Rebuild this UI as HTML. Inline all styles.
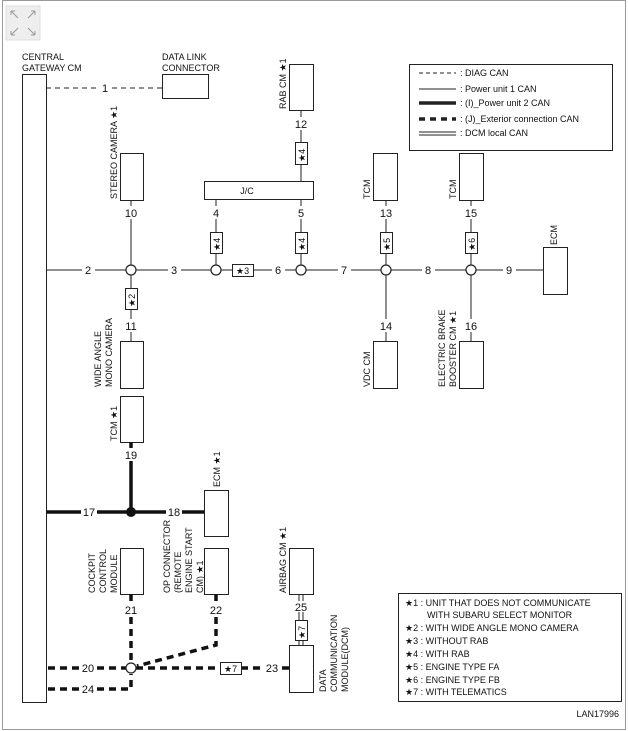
<!DOCTYPE html>
<html><head><meta charset="utf-8"><style>
html,body{margin:0;padding:0;background:#fff}
svg{display:block}
text{font-family:"Liberation Sans",sans-serif;fill:#111}
.s{font-size:9px}
.n{font-size:11px}
</style></head><body>
<svg width="628" height="731" viewBox="0 0 628 731" xmlns="http://www.w3.org/2000/svg">
<rect x="2.5" y="0.5" width="623" height="729" fill="#fff" stroke="#999"/>
<rect x="6" y="6" width="34" height="34" fill="#eee" stroke="#ddd"/>
<g stroke="#999" stroke-width="1" fill="none">
<path d="M11 11 L18 18 M11 11 h4 M11 11 v4 M35 11 L28 18 M35 11 h-4 M35 11 v4 M11 35 L18 28 M11 35 h4 M11 35 v-4 M35 35 L28 28 M35 35 h-4 M35 35 v-4"/>
</g>
<g fill="#fff" stroke="#222" stroke-width="1">
<rect x="22.5" y="74.5" width="24" height="628"/>
<rect x="162.5" y="74.5" width="46" height="24"/>
<rect x="120.5" y="153.5" width="23" height="47"/>
<rect x="204.5" y="181.5" width="109" height="18"/>
<rect x="289.5" y="64.5" width="24" height="46"/>
<rect x="373.5" y="153.5" width="24" height="47"/>
<rect x="459.5" y="153.5" width="24" height="47"/>
<rect x="543.5" y="247.5" width="24" height="47"/>
<rect x="373.5" y="341.5" width="24" height="47"/>
<rect x="459.5" y="341.5" width="24" height="47"/>
<rect x="120.5" y="341.5" width="23" height="47"/>
<rect x="120.5" y="396.5" width="23" height="46"/>
<rect x="204.5" y="490.5" width="24" height="46"/>
<rect x="120.5" y="548.5" width="23" height="46"/>
<rect x="204.5" y="548.5" width="24" height="46"/>
<rect x="289.5" y="548.5" width="24" height="46"/>
<rect x="289.5" y="645.5" width="24" height="47"/>
<rect x="409.5" y="64.5" width="203" height="86"/>
<rect x="398.5" y="593.5" width="223" height="108"/>
</g>
<!-- lines -->
<g stroke="#222" stroke-width="1" fill="none">
<path d="M46 88 H98 M112 88 H162" stroke-dasharray="5,4"/>
<path d="M46 270 H82 M95 270 H168 M181 270 H232 M253 270 H272 M285 270 H338 M351 270 H422 M435 270 H503 M516 270 H543"/>
<path d="M131 200 V206 M131 219 V270 M131 270 V288 M131 309 V319 M131 332 V341"/>
<path d="M216 199 V206 M216 219 V232 M216 253 V270 M301 199 V206 M301 219 V232 M301 253 V270"/>
<path d="M301 110 V117 M301 130 V142 M301 164 V181"/>
<path d="M386 200 V206 M386 219 V232 M386 253 V270 M386 270 V319 M386 332 V341"/>
<path d="M471 200 V206 M471 219 V232 M471 253 V270 M471 270 V319 M471 332 V341"/>
<path d="M299 594 V601 M303 594 V601 M299 612 V620 M303 612 V620 M299 640 V645 M303 640 V645"/>
</g>
<g stroke="#111" stroke-width="3.5" fill="none">
<path d="M131 442 V448 M131 461 V512 M46 512 H81 M97 512 H166 M182 512 H204"/>
</g>
<circle cx="131" cy="512" r="5" fill="#111"/>
<g stroke="#111" stroke-width="3.5" fill="none" stroke-dasharray="7,5">
<path d="M131 594 V603 M131 617 V662"/>
<path d="M216 594 V603 M216 617 V645 L137 666"/>
<path d="M48 668 H80 M97 668 H126 M136 668 H220 M241 668 H262 M282 668 H289"/>
<path d="M48 689 H80 M97 689 H131 V674"/>
</g>
<g fill="#fff" stroke="#222" stroke-width="1.2">
<circle cx="131" cy="270" r="5"/><circle cx="216" cy="270" r="5"/><circle cx="301" cy="270" r="5"/>
<circle cx="386" cy="270" r="5"/><circle cx="471" cy="270" r="5"/><circle cx="131" cy="668" r="5"/>
</g>
<g fill="#fff" stroke="#222" stroke-width="1">
<rect x="232.5" y="264.5" width="21" height="12"/>
<rect x="220.5" y="662.5" width="21" height="12"/>
<rect x="210.5" y="232.5" width="12" height="21"/>
<rect x="295.5" y="232.5" width="12" height="21"/>
<rect x="295.5" y="142.5" width="12" height="22"/>
<rect x="380.5" y="232.5" width="12" height="21"/>
<rect x="465.5" y="232.5" width="12" height="21"/>
<rect x="125.5" y="288.5" width="12" height="21"/>
<rect x="295.5" y="620.5" width="12" height="20"/>
</g>
<g class="s">
<text x="236" y="274">★3</text><text x="224" y="672">★7</text>
<text transform="translate(220,251) rotate(-90)">★4</text>
<text transform="translate(305,251) rotate(-90)">★4</text>
<text transform="translate(305,162) rotate(-90)">★4</text>
<text transform="translate(390,251) rotate(-90)">★5</text>
<text transform="translate(475,251) rotate(-90)">★6</text>
<text transform="translate(135,307) rotate(-90)">★2</text>
<text transform="translate(305,639) rotate(-90)">★7</text>
<text x="247" y="194" text-anchor="middle">J/C</text>
<text x="22" y="60">CENTRAL</text><text x="22" y="71">GATEWAY CM</text>
<text x="162" y="60">DATA LINK</text><text x="162" y="71">CONNECTOR</text>
<text transform="translate(117,199) rotate(-90)">STEREO CAMERA ★1</text>
<text transform="translate(286,109) rotate(-90)">RAB CM ★1</text>
<text transform="translate(370,199) rotate(-90)">TCM</text>
<text transform="translate(456,199) rotate(-90)">TCM</text>
<text transform="translate(557,245) rotate(-90)">ECM</text>
<text transform="translate(370,387) rotate(-90)">VDC CM</text>
<text transform="translate(445,387) rotate(-90)">ELECTRIC BRAKE</text>
<text transform="translate(456,387) rotate(-90)">BOOSTER CM ★1</text>
<text transform="translate(101,387) rotate(-90)">WIDE ANGLE</text>
<text transform="translate(112,387) rotate(-90)">MONO CAMERA</text>
<text transform="translate(117,441) rotate(-90)">TCM ★1</text>
<text transform="translate(220,487) rotate(-90)">ECM ★1</text>
<text transform="translate(95,593) rotate(-90)">COCKPIT</text>
<text transform="translate(106,593) rotate(-90)">CONTROL</text>
<text transform="translate(117,593) rotate(-90)">MODULE</text>
<text transform="translate(170,593) rotate(-90)">OP CONNECTOR</text>
<text transform="translate(181,593) rotate(-90)">(REMOTE</text>
<text transform="translate(192,593) rotate(-90)">ENGINE START</text>
<text transform="translate(203,593) rotate(-90)">CM) ★1</text>
<text transform="translate(286,593) rotate(-90)">AIRBAG CM ★1</text>
<text transform="translate(326,692) rotate(-90)">DATA</text>
<text transform="translate(337,692) rotate(-90)">COMMUNICATION</text>
<text transform="translate(348,692) rotate(-90)">MODULE(DCM)</text>
<text x="460" y="76">: DIAG CAN</text>
<text x="460" y="92">: Power unit 1 CAN</text>
<text x="460" y="106">: (I)_Power unit 2 CAN</text>
<text x="460" y="122">: (J)_Exterior connection CAN</text>
<text x="460" y="136">: DCM local CAN</text>
<text x="405" y="606">★1 : UNIT THAT DOES NOT COMMUNICATE</text>
<text x="427" y="618">WITH SUBARU SELECT MONITOR</text>
<text x="405" y="631">★2 : WITH WIDE ANGLE MONO CAMERA</text>
<text x="405" y="644">★3 : WITHOUT RAB</text>
<text x="405" y="657">★4 : WITH RAB</text>
<text x="405" y="670">★5 : ENGINE TYPE FA</text>
<text x="405" y="683">★6 : ENGINE TYPE FB</text>
<text x="405" y="695">★7 : WITH TELEMATICS</text>
<text x="619" y="717" text-anchor="end">LAN17996</text>
</g>
<g stroke="#222" fill="none">
<path d="M419 73 H456" stroke-dasharray="4,3"/>
<path d="M419 89 H456"/>
<path d="M419 103 H456" stroke-width="3.5"/>
<path d="M419 119 H456" stroke-width="3.5" stroke-dasharray="6,5"/>
<path d="M419 132 H456 M419 135 H456"/>
</g>
<g class="n" text-anchor="middle">
<text x="105" y="92">1</text>
<text x="88" y="274">2</text><text x="174" y="274">3</text><text x="278" y="274">6</text>
<text x="344" y="274">7</text><text x="428" y="274">8</text><text x="509" y="274">9</text>
<text x="131" y="217">10</text><text x="216" y="217">4</text><text x="301" y="217">5</text>
<text x="301" y="128">12</text><text x="386" y="217">13</text><text x="471" y="217">15</text>
<text x="386" y="330">14</text><text x="471" y="330">16</text><text x="131" y="330">11</text>
<text x="131" y="459">19</text><text x="89" y="516">17</text><text x="174" y="516">18</text>
<text x="131" y="614">21</text><text x="216" y="614">22</text><text x="301" y="611">25</text>
<text x="88" y="672">20</text><text x="88" y="693">24</text><text x="272" y="672">23</text>
</g>
</svg>
</body></html>
